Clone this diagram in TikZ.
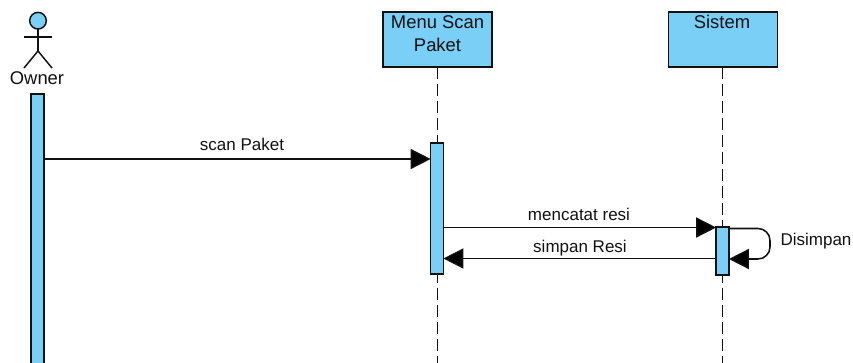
\documentclass[tikz,border=0pt]{standalone}
\usepackage{fontspec}
\setmainfont{Liberation Sans}
\usetikzlibrary{arrows.meta}
\definecolor{lblue}{HTML}{79CFF6}
\definecolor{ink}{HTML}{111111}
\tikzset{
  x=0.75pt,y=-0.75pt,
  every node/.style={inner sep=0pt,outer sep=0pt,text=ink},
  obj/.style={draw=ink,fill=lblue,line width=1.2pt,minimum width=81.5pt,minimum height=41pt},
  act/.style={draw=ink,fill=lblue,line width=1.2pt,minimum width=9.5pt},
  life/.style={draw=ink,line width=1.3pt,dash pattern=on 9.3pt off 3.45pt},
  msg/.style={draw=ink,line width=1.15pt,-{Triangle[length=15pt,width=15pt,fill=black]}},
  big/.style={font=\fontsize{13.8pt}{16pt}\selectfont},
  lab/.style={font=\fontsize{12.75pt}{15pt}\selectfont},
  stick/.style={draw=ink,line width=1.1pt}
}
\begin{document}
\begin{tikzpicture}
\useasboundingbox (0,0) rectangle (853,363);
\clip (0,0) rectangle (853,363);
% lifeline ends
\coordinate (menuend) at (437.5,363);
\coordinate (sisend) at (722.5,363);
% objects
\node[obj] (menu) at (437.5,39.5) {};
\node[obj] (sis) at (723,39.5) {};
\node[big,anchor=center] (menut1) at (437.5,22.5) {Menu Scan};
\node[big,anchor=center] (menut2) at (437.5,45) {Paket};
\node[big,anchor=center] (sist) at (722,22) {Sistem};
\draw[life] (menu.south) -- (menuend);
\draw[life] (sis.south -| sisend) -- (sisend);
% actor
\node[circle,draw=ink,fill=lblue,line width=1.1pt,minimum size=12.5pt] (head) at (38,20.7) {};
\coordinate (armL) at (24,37);
\coordinate (armR) at (52,37);
\coordinate (hip) at (38,51);
\coordinate (legL) at (24,68);
\coordinate (legR) at (52,68);
\draw[stick] (head.south) -- (hip);
\draw[stick] (armL) -- (armR);
\draw[stick] (legL) -- (hip) -- (legR);
\node[big,anchor=center] (owner) at (37,78) {Owner};
% activations
\node[act,minimum height=225pt] (aO) at (37.5,244) {};
\node[act,minimum height=98.25pt] (aM) at (437,208.5) {};
\node[act,minimum height=36pt] (aS) at (722.5,251) {};
% rows
\coordinate (r1) at (0,159);
\coordinate (r2) at (0,227.5);
\coordinate (r3) at (0,258.5);
\coordinate (sA) at (770,228.5);
\coordinate (sB) at (770,259);
% messages
\draw[msg] (aO.east |- r1) -- (aM.west |- r1);
\draw[msg] (aM.east |- r2) -- (aS.west |- r2);
\draw[msg] (aS.west |- r3) -- (aM.east |- r3);
\draw[msg,rounded corners=9pt] (aS.east |- sA) -- (sA) -- (sB) -- (aS.east |- sB);
% labels
\node[lab] (l1) at (242,144) {scan Paket};
\node[lab] (l2) at (579,214.5) {mencatat resi};
\node[lab] (l3) at (580,248.5) {simpan Resi};
\node[lab] (l4) at (816,241) {Disimpan};
\end{tikzpicture}
\end{document}
